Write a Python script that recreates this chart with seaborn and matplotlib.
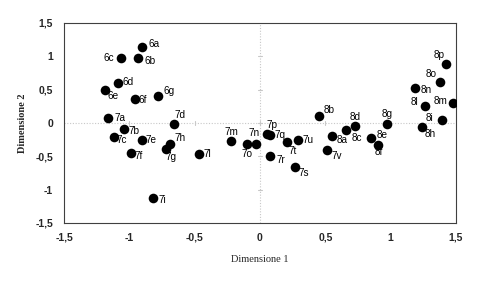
import matplotlib
matplotlib.use("Agg")
import matplotlib.pyplot as plt
import seaborn as sns
import pandas as pd
import numpy as np

labels = ["6a","6b","6c","6d","6e","6f","6g",
          "7a","7b","7c","7d","7e","7f","7g","7h","7i","7l","7m","7n","7o",
          "7p","7q","7r","7s","7t","7u","7v",
          "8a","8b","8c","8d","8e","8f","8g","8h","8i","8l","8m","8n","8o","8p"]
dim1 = [-0.90,-0.93,-1.06,-1.09,-1.19,-0.96,-0.78,
        -1.16,-1.04,-1.12,-0.66,-0.90,-0.99,-0.72,-0.69,-0.82,-0.47,-0.22,-0.03,-0.10,
        0.05,0.08,0.08,0.27,0.21,0.29,0.51,
        0.55,0.45,0.66,0.73,0.85,0.90,0.97,1.24,1.39,1.26,1.48,1.19,1.38,1.42]
dim2 = [1.14,0.97,0.97,0.60,0.50,0.36,0.41,
        0.08,-0.09,-0.21,-0.01,-0.25,-0.45,-0.39,-0.32,-1.12,-0.46,-0.27,-0.31,-0.32,
        -0.17,-0.18,-0.49,-0.66,-0.29,-0.25,-0.41,
        -0.19,0.10,-0.11,-0.04,-0.23,-0.33,-0.02,-0.06,0.05,0.25,0.30,0.53,0.62,0.88]

# label offsets in pixels (dx, dy up), horizontal alignment
offsets = {
    "6a": (6, 3, "left"), "6b": (6, -3, "left"), "6c": (-7, 0, "right"),
    "6d": (5, 1, "left"), "6e": (3, -6, "left"), "6f": (4, -1, "left"),
    "6g": (5, 5, "left"), "7a": (6, 0, "left"), "7b": (4, -2, "left"),
    "7c": (3, -3, "left"), "7d": (1, 9, "left"), "7e": (3, 0, "left"),
    "7f": (4, -3, "left"), "7g": (0, -8, "left"), "7h": (5, 6, "left"),
    "7i": (6, -2, "left"), "7l": (5, 0, "left"), "7m": (0, 9, "center"),
    "7n": (-2, 11, "center"), "7o": (0, -10, "center"), "7p": (0, 9, "left"),
    "7q": (4, 0, "left"), "7r": (6, -4, "left"), "7s": (3, -6, "left"),
    "7t": (1, -9, "left"), "7u": (5, 0, "left"), "7v": (5, -6, "left"),
    "8a": (5, -4, "left"), "8b": (5, 6, "left"), "8c": (5, -8, "left"),
    "8d": (0, 9, "center"), "8e": (6, 3, "left"), "8f": (1, -7, "center"),
    "8g": (0, 10, "center"), "8h": (3, -7, "left"), "8i": (-8, 2, "right"),
    "8l": (-6, 4, "right"), "8m": (-6, 2, "right"), "8n": (5, -2, "left"),
    "8o": (-4, 8, "right"), "8p": (-1, 9, "right"),
}

xticks = [-1.5, -1, -0.5, 0, 0.5, 1, 1.5]
yticks = [-1.5, -1, -0.5, 0, 0.5, 1, 1.5]
tick_text = ["-1,5", "-1", "-0,5", "0", "0,5", "1", "1,5"]

df = pd.DataFrame({"label": labels, "Dimensione 1": dim1, "Dimensione 2": dim2})

sns.set_theme(style="white")
plt.rcParams["font.family"] = ["Liberation Sans", "DejaVu Sans"]

fig = plt.figure(figsize=(4.81, 2.85), dpi=100)
ax = fig.add_axes([64/481, 1-223/285, (456-64)/481, 200/285])

ax.axhline(0, color="#c8c8c8", lw=0.8, ls=(0, (1, 1.5)), zorder=0)
ax.axvline(0, color="#c8c8c8", lw=0.8, ls=(0, (1, 1.5)), zorder=0)
# small tick marks along the zero axes
for t in xticks[1:-1]:
    ax.plot([t, t], [-0.03, 0.03], color="#c8c8c8", lw=0.8, zorder=0)
for t in yticks[1:-1]:
    ax.plot([-0.015, 0.015], [t, t], color="#c8c8c8", lw=0.8, zorder=0)

sns.scatterplot(data=df, x="Dimensione 1", y="Dimensione 2", ax=ax,
                color="black", s=48, edgecolor="black", linewidth=0, zorder=3)

for lab, x, y in zip(labels, dim1, dim2):
    dx, dy, ha = offsets[lab]
    ax.annotate(lab, (x, y), xytext=(dx * 0.72, dy * 0.72), textcoords="offset points",
                ha=ha, va="center", fontsize=7.2, color="black",
                family=["Liberation Sans", "DejaVu Sans"])

ax.set_xlim(-1.5, 1.5)
ax.set_ylim(-1.5, 1.5)
ax.set_xticks(xticks)
ax.set_yticks(yticks)
ax.set_xticklabels(tick_text, fontsize=7.5, fontweight="bold", family=["Liberation Sans", "DejaVu Sans"])
ax.set_yticklabels(tick_text, fontsize=7.5, fontweight="bold", family=["Liberation Sans", "DejaVu Sans"])
ax.tick_params(axis="x", length=0, pad=7)
ax.tick_params(axis="y", length=0, pad=8)
for s in ax.spines.values():
    s.set_color("#404040")
    s.set_linewidth(0.8)

ax.set_xlabel("Dimensione 1", fontsize=7.5, family=["Liberation Serif", "DejaVu Serif"], labelpad=9)
ax.set_ylabel("Dimensione 2", fontsize=7.5, fontweight="bold", family=["Liberation Serif", "DejaVu Serif"], labelpad=6)

fig.savefig("out.png", dpi=100)
